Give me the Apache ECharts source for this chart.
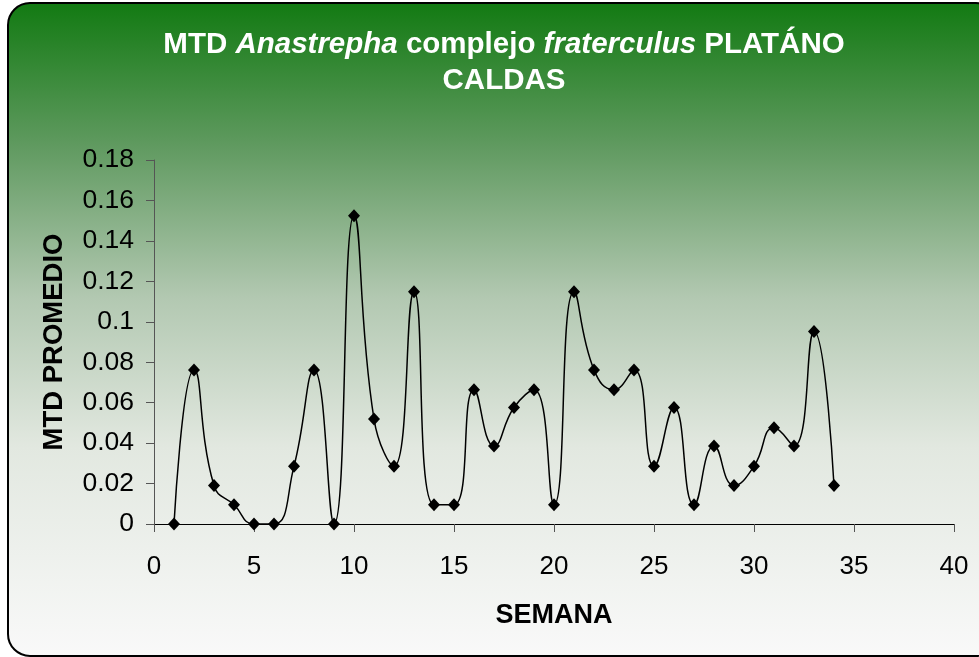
<!DOCTYPE html>
<html>
<head>
<meta charset="utf-8">
<script src="https://cdn.jsdelivr.net/npm/echarts@6/dist/echarts.min.js"></script>
<style>
  html, body { margin: 0; padding: 0; background: #fff; }
  #chart { width: 979px; height: 657px; }
</style>
</head>
<body>
<div id="chart"></div>
<script>
// semanas 1..34
const semanas = [1, 2, 3, 4, 5, 6, 7, 8, 9, 10, 11, 12, 13, 14, 15, 16, 17,
  18, 19, 20, 21, 22, 23, 24, 25, 26, 27, 28, 29, 30, 31, 32, 33, 34]
const mtdPromedio = [0, 0.0762, 0.019, 0.0095, 0, 0, 0.0286, 0.0762, 0, 0.1524,
  0.0519, 0.0286, 0.1148, 0.0095, 0.0095, 0.0664, 0.0386, 0.0576, 0.0664, 0.0095,
  0.1148, 0.0762, 0.0664, 0.0762, 0.0286, 0.0576, 0.0095, 0.0386, 0.019, 0.0286,
  0.0476, 0.0386, 0.0952, 0.019]

const chart = echarts.init(document.getElementById('chart'))

const font = 'Liberation Sans, Arial, sans-serif'

const option = {
  animation: false,
  graphic: [{
    type: 'rect',
    z: -100,
    silent: true,
    shape: { x: 8, y: 3, width: 990, height: 653, r: 22 },
    style: {
      fill: new echarts.graphic.LinearGradient(0, 0, 0, 1, [
        { offset: 0, color: '#127a12' },
        { offset: 0.22, color: '#609a60' },
        { offset: 0.45, color: '#b2c8b1' },
        { offset: 0.68, color: '#e2e8e0' },
        { offset: 1, color: '#f9f9f9' }
      ]),
      stroke: '#000',
      lineWidth: 2
    }
  }],
  title: {
    left: 499,
    textAlign: 'center',
    top: 22,
    text: '{b|MTD }{bi|Anastrepha}{b| complejo }{bi|fraterculus}{b| PLATÁNO}\n{b|CALDAS}',
    textStyle: {
      rich: {
        b: { color: '#fff', fontWeight: 'bold', fontSize: 29.5, fontFamily: font, lineHeight: 36 },
        bi: { color: '#fff', fontWeight: 'bold', fontStyle: 'italic', fontSize: 29.5, fontFamily: font, lineHeight: 36 }
      }
    }
  },
  grid: { left: 154, right: 25, top: 160, bottom: 133 },
  xAxis: {
    type: 'value',
    min: 0,
    max: 40,
    interval: 5,
    name: 'SEMANA',
    nameLocation: 'middle',
    nameGap: 78,
    nameTextStyle: { color: '#000', fontWeight: 'bold', fontSize: 27, fontFamily: font },
    axisLine: { lineStyle: { color: '#000', width: 1 } },
    axisTick: { show: true, length: 8, lineStyle: { color: '#555' } },
    axisLabel: { color: '#000', fontSize: 26, fontFamily: font, margin: 30 },
    splitLine: { show: false }
  },
  yAxis: {
    type: 'value',
    min: 0,
    max: 0.18,
    interval: 0.02,
    name: 'MTD PROMEDIO',
    nameLocation: 'middle',
    nameGap: 86,
    nameTextStyle: { color: '#000', fontWeight: 'bold', fontSize: 27.5, fontFamily: font },
    axisLine: { show: true, lineStyle: { color: '#555', width: 1 } },
    axisTick: { show: true, length: 8, lineStyle: { color: '#555' } },
    axisLabel: {
      color: '#000', fontSize: 26.5, fontFamily: font, margin: 20,
      formatter: (v) => String(Math.round(v * 100) / 100)
    },
    splitLine: { show: false }
  },
  series: [{
    type: 'line',
    data: semanas.map((s, i) => [s, mtdPromedio[i]]),
    smooth: 0.5,
    symbol: 'diamond',
    symbolSize: [12, 13],
    showAllSymbol: true,
    lineStyle: { color: '#000', width: 1.5 },
    itemStyle: { color: '#000' }
  }]
}

chart.setOption(option)
</script>
</body>
</html>
